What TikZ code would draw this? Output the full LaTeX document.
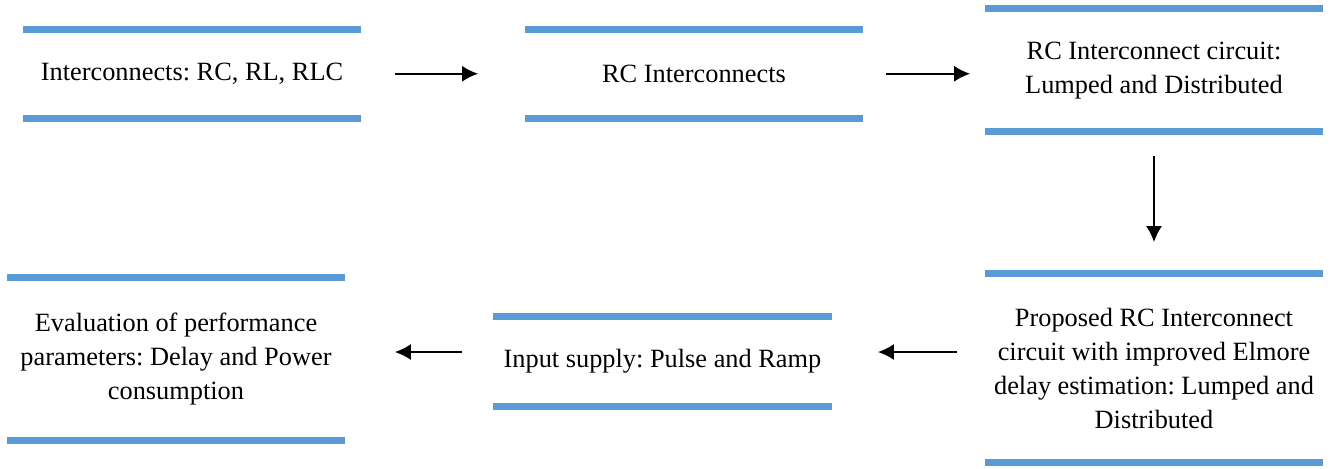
\documentclass[tikz,border=0pt]{standalone}
\usepackage{fontspec}
\setmainfont{Liberation Serif}
\usetikzlibrary{arrows.meta}
\definecolor{barblue}{HTML}{5B9BD5}
\frenchspacing
\begin{document}
\begin{tikzpicture}[x=0.02cm, y=-0.02cm,
  every node/.style={font=\fontsize{15}{19.4}\selectfont},
  stage/.style={inner sep=0pt,outer sep=0pt,minimum width=6.76cm,align=center},
  bar/.style={draw=barblue,line width=0.14cm},
  flow/.style={-{Latex[length=0.32cm,width=0.32cm]},line width=0.9pt}]
  \useasboundingbox (0,0) rectangle (1336,468);
  \node[stage,minimum height=1.79cm] (types) at (192,73.75) {Interconnects: RC, RL, RLC};
  \node[stage,minimum height=1.79cm] (rc) at (694,73.75) {RC Interconnects};
  \node[stage,minimum height=2.47cm] (lumped) at (1154,70.25) {RC Interconnect circuit:\\Lumped and Distributed};
  % bottom row
  \node[stage,minimum height=3.79cm] (proposed) at (1154,368.25) {Proposed RC Interconnect\\circuit with improved Elmore\\delay estimation: Lumped and\\Distributed};
  \node[stage,minimum width=6.78cm,minimum height=1.8cm] (supply) at (662.5,361) {Input supply: Pulse and Ramp};
  \node[stage,minimum height=3.27cm] (eval) at (176,358.75) {Evaluation of performance\\parameters: Delay and Power\\consumption};
  \foreach \n in {types,rc,lumped,proposed,supply,eval} {
    \draw[bar] (\n.north west) -- (\n.north east);
    \draw[bar] (\n.south west) -- (\n.south east);
  }
  \draw[flow,shorten <=0.68cm,shorten >=0.94cm] (types.east) -- (rc.west);
  \draw[flow,shorten <=0.46cm,shorten >=0.3cm] (rc.east) -- (rc.east -| lumped.west);
  \draw[flow,shorten <=0.48cm,shorten >=0.63cm] (lumped.south) -- (proposed.north);
  \draw[flow,shorten <=0.56cm,shorten >=0.92cm] ([yshift=0.325cm]proposed.west) -- ([yshift=0.325cm]proposed.west -| supply.east);
  \draw[flow,shorten <=0.62cm,shorten >=1.0cm] ([yshift=0.18cm]supply.west) -- ([yshift=0.18cm]supply.west -| eval.east);
\end{tikzpicture}
\end{document}
